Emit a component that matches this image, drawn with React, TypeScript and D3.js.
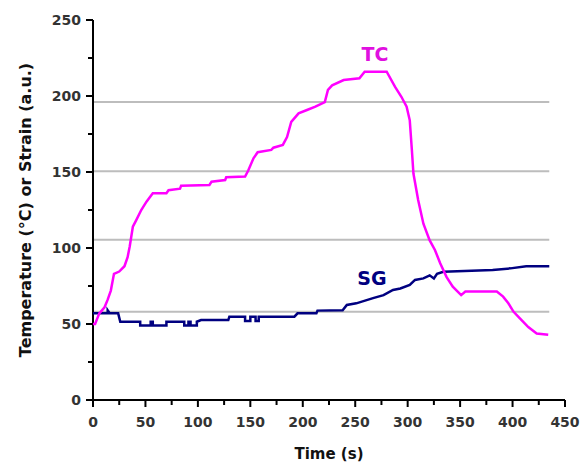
import React from "react";
import * as d3 from "d3";

// ---- data ----
const tcTime = [0, 2, 6, 11, 14, 17, 20, 25, 30, 33, 35, 38, 41, 46, 51, 57, 70, 72, 83, 84, 111, 113, 126, 127, 145, 148, 153, 157, 170, 172, 181, 185, 189, 196, 204, 212, 221, 224, 228, 239, 254, 259, 280, 288, 294, 299, 302, 304, 305.5, 310, 315, 321, 326, 331, 337, 343, 351, 355, 385, 391, 396, 401, 407, 415, 423, 434];
const tcValue = [50, 50, 57, 61, 66, 72, 83, 84.5, 88, 94, 101, 114, 118, 125, 130.5, 136, 136, 138, 139, 141, 141.5, 143.6, 144.7, 146.5, 147, 151, 159, 163, 164.5, 166, 167.8, 173, 183, 188.6, 190.8, 193, 196, 204, 207, 210.5, 211.6, 216, 216, 206, 199.5, 193, 184, 164.5, 149, 131.6, 116, 105, 98.7, 90, 81, 74.5, 69, 71.3, 71.3, 68, 63.6, 58, 53.7, 48, 43.8, 43];

const sgTime = [0, 14, 14, 16, 24, 26, 45, 45, 55, 55, 57, 57, 70, 70, 87, 87, 91, 91, 93, 93, 99, 99, 103, 129, 130, 145, 145, 150, 150, 155, 155, 158, 158, 192, 195, 213, 214, 238, 242, 251, 267, 277, 286, 293, 302, 307, 315, 321, 325, 328, 334, 381, 398, 413, 435];
const sgValue = [57, 57, 59, 57, 57, 51.5, 51.5, 49, 49, 51.5, 51.5, 49, 49, 51.5, 51.5, 49, 49, 51.5, 51.5, 49, 49, 51.5, 52.6, 52.6, 54.8, 54.8, 52, 52, 54.8, 54.8, 52, 52, 54.8, 54.8, 57, 57, 58.8, 59, 62.5, 63.6, 67, 69, 72.4, 73.4, 75.7, 79, 80, 82, 80, 83, 84.4, 85.5, 86.6, 88, 88];

const gridValues = [196, 150.5, 105.5, 58];
const gridEnd = 435;
const xTicks = [0, 50, 100, 150, 200, 250, 300, 350, 400, 450];
const yTicks = [0, 50, 100, 150, 200, 250];
const seriesNames = ["TC", "SG"];

export default function App() {
  const x = d3.scaleLinear().domain([0, 450]).range([93, 565]);
  const y = d3.scaleLinear().domain([0, 250]).range([400, 20]);

  const line = d3
    .line<[number, number]>()
    .x((d) => x(d[0]))
    .y((d) => y(d[1]))
    .curve(d3.curveLinear);

  const tc = tcTime.map((t, i) => [t, tcValue[i]] as [number, number]);
  const sg = sgTime.map((t, i) => [t, sgValue[i]] as [number, number]);

  const xMinor = d3.range(0, 451, 25);
  const yMinor = d3.range(0, 251, 25);
  const font = "'DejaVu Sans', Verdana, sans-serif";

  return (
    <svg width={582} height={463} style={{ position: "absolute", left: 0, top: 0, background: "#fff" }}>
      {gridValues.map((g) => (
        <line key={g} x1={x(0)} x2={x(gridEnd)} y1={y(g)} y2={y(g)} stroke="#bdbdbd" strokeWidth={2} />
      ))}

      {/* axes */}
      <line x1={x(0)} x2={x(0)} y1={y(0)} y2={y(250)} stroke="#000" strokeWidth={2} />
      <line x1={x(0)} x2={x(450)} y1={y(0)} y2={y(0)} stroke="#000" strokeWidth={2} />
      {xMinor.map((t) => (
        <line key={"xm" + t} x1={x(t)} x2={x(t)} y1={y(0)} y2={y(0) + (t % 50 === 0 ? 7 : 5)} stroke="#000" strokeWidth={2} />
      ))}
      {yMinor.map((v) => (
        <line key={"ym" + v} x1={x(0) - (v % 50 === 0 ? 7 : 5)} x2={x(0)} y1={y(v)} y2={y(v)} stroke="#000" strokeWidth={2} />
      ))}
      {xTicks.map((t) => (
        <text key={"xt" + t} x={x(t)} y={427} textAnchor="middle" fontFamily={font} fontWeight="bold" fontSize={14} fill="#333">
          {t}
        </text>
      ))}
      {yTicks.map((v) => (
        <text key={"yt" + v} x={81} y={y(v) + 5} textAnchor="end" fontFamily={font} fontWeight="bold" fontSize={14} fill="#333">
          {v}
        </text>
      ))}

      <text x={329} y={459} textAnchor="middle" fontFamily={font} fontWeight="bold" fontSize={15} fill="#111">
        Time (s)
      </text>
      <text
        transform={`translate(31, ${y(125)}) rotate(-90)`}
        textAnchor="middle"
        fontFamily={font}
        fontWeight="bold"
        fontSize={16}
        fill="#111"
      >
        Temperature (°C) or Strain (a.u.)
      </text>

      <path d={line(sg) || ""} fill="none" stroke="#000080" strokeWidth={2.5} />
      <path d={line(tc) || ""} fill="none" stroke="#ff00ff" strokeWidth={2.5} />

      <text x={375} y={61} textAnchor="middle" fontFamily={font} fontWeight="bold" fontSize={19} fill="#e010e0">
        {seriesNames[0]}
      </text>
      <text x={372} y={285} textAnchor="middle" fontFamily={font} fontWeight="bold" fontSize={19} fill="#000080">
        {seriesNames[1]}
      </text>
    </svg>
  );
}
